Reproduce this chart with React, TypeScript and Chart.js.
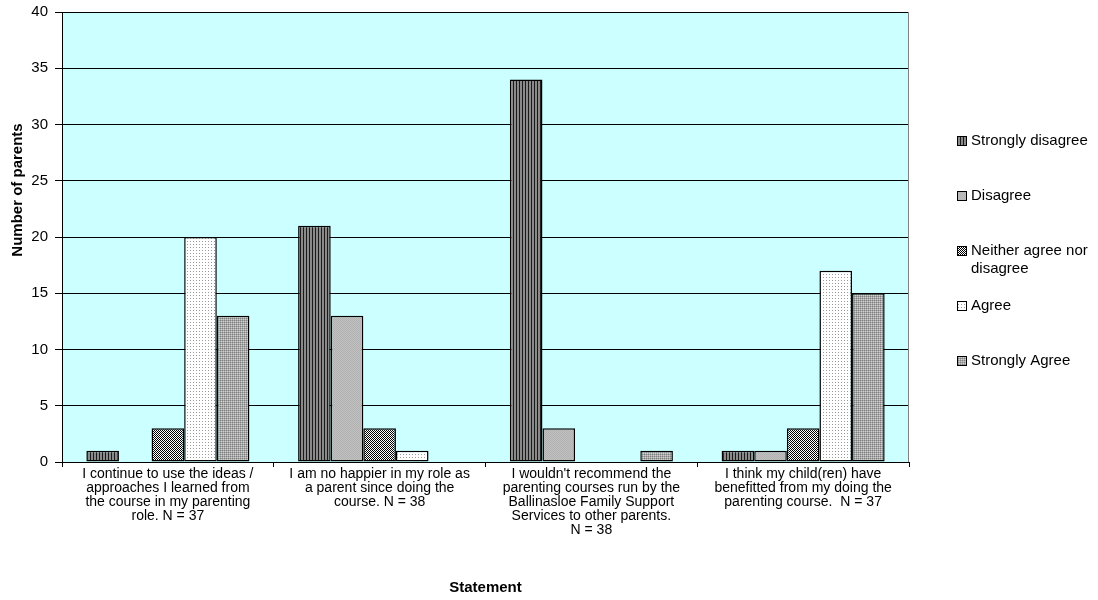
import React, { useEffect, useRef } from "react";
import { Chart, registerables } from "chart.js";

Chart.register(...registerables);

const categories: string[][] = [
  ["I continue to use the ideas /", "approaches I learned from", "the course in my parenting", "role. N = 37"],
  ["I am no happier in my role as", "a parent since doing the", "course. N = 38"],
  ["I wouldn't recommend the", "parenting courses run by the", "Ballinasloe Family Support", "Services to other parents.", "N = 38"],
  ["I think my child(ren) have", "benefitted from my doing the", "parenting course.  N = 37"],
];

const seriesNames: string[][] = [
  ["Strongly disagree"],
  ["Disagree"],
  ["Neither agree nor", "disagree"],
  ["Agree"],
  ["Strongly Agree"],
];

const stronglyDisagree = [1, 21, 34, 1];
const disagree = [0, 13, 3, 1];
const neither = [3, 3, 0, 3];
const agree = [20, 1, 0, 17];
const stronglyAgree = [13, 0, 1, 15];

const yTicksMax = 40;
const yTicksStep = 5;
const xTitle = "Statement";
const yTitle = "Number of parents";

const FONT = "'Liberation Sans', Arial, sans-serif";

function makePattern(w: number, h: number, draw: (c: CanvasRenderingContext2D) => void) {
  const cv = document.createElement("canvas");
  cv.width = w;
  cv.height = h;
  const c = cv.getContext("2d")!;
  draw(c);
  return c.createPattern(cv, "repeat")!;
}

function px(c: CanvasRenderingContext2D, x: number, y: number, col: string) {
  c.fillStyle = col;
  c.fillRect(x, y, 1, 1);
}

export default function App() {
  const ref = useRef<HTMLCanvasElement>(null);

  useEffect(() => {
    const patSD = makePattern(3, 1, (c) => {
      c.fillStyle = "#8a8a8a";
      c.fillRect(0, 0, 3, 1);
      px(c, 0, 0, "#1a1a1a");
    });
    const patD = makePattern(2, 2, (c) => {
      c.fillStyle = "#c0c0c0";
      c.fillRect(0, 0, 2, 2);
      px(c, 0, 0, "#b0b0b0");
      px(c, 1, 1, "#b4b4b4");
    });
    const patN = makePattern(2, 2, (c) => {
      c.fillStyle = "#ffffff";
      c.fillRect(0, 0, 2, 2);
      px(c, 0, 0, "#000000");
      px(c, 1, 1, "#000000");
    });
    const patA = makePattern(3, 3, (c) => {
      c.fillStyle = "#ffffff";
      c.fillRect(0, 0, 3, 3);
      px(c, 1, 1, "#9a9a9a");
    });
    const patSA = makePattern(2, 2, (c) => {
      c.fillStyle = "#a8a8a8";
      c.fillRect(0, 0, 2, 2);
      px(c, 0, 0, "#808080");
      px(c, 1, 1, "#d0d0d0");
    });

    const fills = [patSD, patD, patN, patA, patSA];
    const values = [stronglyDisagree, disagree, neither, agree, stronglyAgree];

    const bgPlugin = {
      id: "bgPlugin",
      beforeDraw(chart: any) {
        const { ctx, chartArea: a } = chart;
        ctx.save();
        ctx.fillStyle = "#ffffff";
        ctx.fillRect(0, 0, chart.width, chart.height);
        ctx.fillStyle = "#ccffff";
        ctx.fillRect(a.left, a.top, a.right - a.left, a.bottom - a.top);
        ctx.restore();
      },
      afterDraw(chart: any) {
        const { ctx, chartArea: a } = chart;
        ctx.save();
        ctx.strokeStyle = "#808080";
        ctx.lineWidth = 1;
        ctx.beginPath();
        ctx.moveTo(a.right - 0.5, a.top);
        ctx.lineTo(a.right - 0.5, a.bottom);
        ctx.stroke();
        // y axis title
        ctx.save();
        ctx.translate(18, 190);
        ctx.rotate(-Math.PI / 2);
        ctx.font = `bold 15px ${FONT}`;
        ctx.fillStyle = "#000000";
        ctx.textAlign = "center";
        ctx.textBaseline = "middle";
        ctx.fillText(yTitle, 0, 0);
        ctx.restore();
        // legend
        const lx = 957;
        const startY = 141;
        const gap = 55;
        ctx.font = `15px ${FONT}`;
        ctx.textBaseline = "middle";
        ctx.textAlign = "left";
        seriesNames.forEach((lines, i) => {
          const cy = startY + gap * i;
          ctx.fillStyle = fills[i];
          ctx.fillRect(lx, cy - 5, 10, 10);
          ctx.strokeStyle = "#000000";
          ctx.lineWidth = 1;
          ctx.strokeRect(lx + 0.5, cy - 4.5, 9, 9);
          ctx.fillStyle = "#000000";
          lines.forEach((t, j) => {
            ctx.fillText(t, lx + 14, cy + j * 18);
          });
        });
        ctx.restore();
      },
    };

    const chart = new Chart(ref.current!, {
      type: "bar",
      data: {
        labels: categories,
        datasets: values.map((v, i) => ({
          label: seriesNames[i].join(" "),
          data: v,
          backgroundColor: fills[i] as any,
          borderColor: "#000000",
          borderWidth: 1.5,
          borderSkipped: false,
          categoryPercentage: 0.77,
          barPercentage: 1,
        })),
      },
      options: {
        animation: false,
        responsive: false,
        maintainAspectRatio: false,
        layout: { padding: { top: 12, right: 189, left: 0, bottom: 0 } },
        plugins: {
          legend: { display: false },
          tooltip: { enabled: false },
        },
        scales: {
          x: {
            offset: true,
            afterFit(scale: any) {
              scale.height = 138;
              scale.paddingLeft = 0;
              scale.paddingRight = 0;
            },
            grid: {
              offset: true,
              drawOnChartArea: false,
              drawTicks: true,
              tickLength: 5,
              color: "#000000",
            },
            border: { color: "#000000", width: 1 },
            ticks: {
              color: "#000000",
              font: { family: FONT, size: 14, lineHeight: 1.0 },
              padding: 0,
              maxRotation: 0,
              autoSkip: false,
            },
            title: {
              display: true,
              text: xTitle,
              color: "#000000",
              font: { family: FONT, size: 15, weight: "bold", lineHeight: 1.2 },
              padding: { top: 0, bottom: 3 },
            },
          },
          y: {
            min: 0,
            max: yTicksMax,
            afterFit(scale: any) {
              scale.width = 62;
              scale.paddingTop = 0;
              scale.paddingBottom = 0;
            },
            grid: {
              color: "#000000",
              drawTicks: true,
              tickLength: 7,
            },
            border: { color: "#000000", width: 1 },
            ticks: {
              stepSize: yTicksStep,
              color: "#000000",
              font: { family: FONT, size: 15 },
              padding: 7,
            },
            title: { display: false },
          },
        },
      },
      plugins: [bgPlugin],
    });
    return () => chart.destroy();
  }, []);

  return (
    <div style={{ position: "fixed", left: 0, top: 0, width: 1098, height: 600, background: "#fff" }}>
      <canvas ref={ref} width={1098} height={600} style={{ display: "block", width: 1098, height: 600 }} />
    </div>
  );
}
